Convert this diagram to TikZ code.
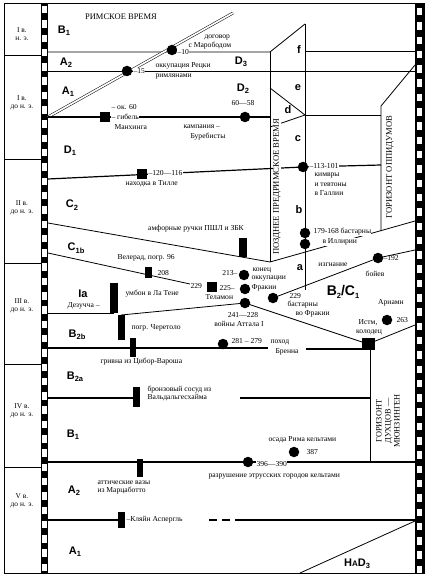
\documentclass[tikz,border=0pt]{standalone}
\usepackage{fontspec}
\setmainfont{Liberation Serif}
\newfontfamily\phsans{Liberation Sans}
\newcommand\phsub[1]{\raisebox{-2.4pt}{\fontsize{7.5}{8}\selectfont #1}}
\begin{document}
\begin{tikzpicture}[x=1pt,y=-1pt,
  lab/.style={font=\fontsize{7.6}{8.2}\selectfont, inner sep=0.3pt},
  wl/.style={lab, fill=white},
  ph/.style={font=\phsans\bfseries\fontsize{11}{12}\selectfont, inner sep=0},
  bdry/.style={line width=0.8pt},
  evl/.style={line width=1.2pt},
  dotm/.style={circle, fill=black, minimum size=10.5pt, inner sep=0},
  sqm/.style={rectangle, fill=black, minimum size=10pt, inner sep=0},
  barm/.style={rectangle, fill=black, inner sep=0, minimum width=7pt},
  cent/.style={font=\fontsize{7.4}{8.4}\selectfont, align=center, inner sep=0},
  vtext/.style={font=\fontsize{8.6}{9.5}\selectfont, rotate=90, inner sep=0.6pt, fill=white},
]
\useasboundingbox (0,0) rectangle (431,577);

% ---------- frame and film strips
\draw[line width=0.8pt] (4,3) rectangle (424,573);
\fill (41,3) rectangle (48,573);
\fill (415,3) rectangle (424,573);
\foreach \k in {0,...,39} {
  \fill[white] (42.4,{6+\k*14.3}) rectangle (46.8,{13.5+\k*14.3});
  \fill[white] (416.6,{8+\k*14.3}) rectangle (422.4,{15.5+\k*14.3});
}
\foreach \yy in {55,159,263,364,467} \draw[line width=0.7pt] (4,\yy) -- (41,\yy);

% ---------- century labels
\node[cent] (c1) at (22,34) {I в.\\н. э.};
\node[cent] (c2) at (22,103) {I в.\\до н. э.};
\node[cent] (c3) at (22,208) {II в.\\до н. э.};
\node[cent] (c4) at (22,306) {III в.\\до н. э.};
\node[cent] (c5) at (22,411) {IV в.\\до н. э.};
\node[cent] (c6) at (22,501) {V в.\\до н. э.};

% ---------- boundaries
\draw[bdry] (48,52) -- (270,52) -- (305,24);
\draw[bdry] (305,51) -- (415,51);
\draw[bdry] (48,71) -- (415,71);
\draw[bdry] (270,52) -- (270,262);
\draw[bdry] (305,24) -- (305,290);
\draw[bdry] (270,88) -- (305,115) -- (270,127);
\draw[bdry] (305,115) -- (381,115);
\draw[bdry] (381,231) -- (381,106) -- (415,65);
\draw[double, double distance=1.7pt, line width=0.5pt] (48,117) -- (233,13);

% Manching line
\draw[evl] (48,117) -- (270,117);
% D1 / C2
\draw[evl] (48,179) -- (303,167) -- (381,165);
% C2 / C1b and b / a
\draw[bdry] (48,223) -- (270,262) -- (415,221);
% a / B2C1
\draw[bdry] (273,298) -- (378,258) -- (415,250);
% C1b / Ia
\draw[bdry] (48,253) -- (190,284);
% Ia / B2b
\draw[bdry] (48,313) -- (114,313);
\draw[bdry] (121,315) -- (245,303) -- (368,344);
\draw[bdry] (368,344) -- (415,325);
% B2b / B2a
\draw[evl] (48,348) -- (268,348);
\draw[evl] (306,349) -- (368,349);
\draw[bdry] (370,349) -- (370,462);
% B2a / B1
\draw[evl] (48,398) -- (136,398);
\draw[evl] (240,398) -- (370,398);
% B1 / A2
\draw[evl] (48,462) -- (415,462);
% A2 / A1
\draw[evl] (48,520) -- (122,520);
\draw[evl, dash pattern=on 8pt off 5pt] (209,520) -- (237,520);
\draw[evl] (237,520) -- (415,520);
% HaD3
\draw[bdry] (300,573) -- (415,521);

% ---------- markers
\node[dotm] (p15) at (127,71) {};
\node[dotm] (p10) at (172,50) {};
\node[sqm] (sMan) at (105,117) {};
\node[dotm] (pBur) at (245,117) {};
\node[sqm] (sTil) at (142,174) {};
\node[dotm] (pKim) at (303,167) {};
\node[dotm] (pBa1) at (305,233) {};
\node[dotm] (pBa2) at (305,244) {};
\node[dotm] (pBoi) at (378,258) {};
\node[barm, minimum height=19pt, minimum width=8pt] (bAmf) at (243,247.5) {};
\node[barm, minimum height=11pt] (bVel) at (148,272) {};
\node[dotm] (p213) at (244,275) {};
\node[sqm] (sTel) at (212,287) {};
\node[dotm] (p225) at (245,289) {};
\node[dotm] (p241) at (245,303) {};
\node[dotm] (p229) at (273,298) {};
\node[barm, minimum height=30pt, minimum width=8pt] (bDez) at (114,298) {};
\node[barm, minimum height=25pt] (bChe) at (121.5,327.5) {};
\node[barm, minimum height=19pt, minimum width=6pt] (bCib) at (133,347.5) {};
\node[dotm] (p281) at (223,344) {};
\node[sqm, minimum width=13pt, minimum height=12pt] (sIst) at (368,344) {};
\node[dotm] (p263) at (387,320) {};
\node[barm, minimum height=20pt] (bWal) at (136,397) {};
\node[barm, minimum height=18pt, minimum width=6pt] (bMar) at (140,468) {};
\node[dotm] (p396) at (248,462) {};
\node[dotm] (p387) at (294,452) {};
\node[barm, minimum height=16pt] (bKle) at (121.5,520) {};

% ---------- phase labels
\node[ph] (lB1) at (64,31) {B\phsub{1}};
\node[ph] (lA2) at (66,63) {A\phsub{2}};
\node[ph] (lA1) at (68,92) {A\phsub{1}};
\node[ph] (lD1) at (70,151) {D\phsub{1}};
\node[ph] (lC2) at (72,205) {C\phsub{2}};
\node[ph] (lC1b) at (76,248) {C\phsub{1b}};
\node[ph] (lIa) at (83,294) {Ia};
\node[ph] (lB2b) at (77,335) {B\phsub{2b}};
\node[ph] (lB2a) at (75,377) {B\phsub{2a}};
\node[ph] (lB1b) at (73,435) {B\phsub{1}};
\node[ph] (lA2b) at (74,491) {A\phsub{2}};
\node[ph] (lA1b) at (75,552) {A\phsub{1}};
\node[ph] (lD3) at (241,62) {D\phsub{3}};
\node[ph] (lD2) at (243,89) {D\phsub{2}};
\node[ph] (lf) at (299,50) {f};
\node[ph] (le) at (298,88) {e};
\node[ph] (ld) at (288,110) {d};
\node[ph] (lc) at (298,139) {c};
\node[ph] (lb) at (299,210) {b};
\node[ph] (la) at (300,268) {a};
\node[ph, font=\phsans\bfseries\fontsize{14}{15}\selectfont] (lBC) at (343,292) {B\phsub{2}/C\phsub{1}};
\node[ph] (lHa) at (357,564) {H{\fontsize{8}{9}\selectfont A}D\phsub{3}};

% ---------- vertical titles
\node[vtext] (tPoz) at (277,187) {ПОЗДНЕЕ ПРЕДРИМСКОЕ ВРЕМЯ};
\node[vtext] (tOpp) at (390,167) {ГОРИЗОНТ ОППИДУМОВ};
\node[vtext, align=center, font=\fontsize{8.3}{9}\selectfont] (tDux) at (388,421) {ГОРИЗОНТ\\ДУХЦОВ —\\МЮНЗИНГЕН};
\node[lab, font=\fontsize{8.5}{9}\selectfont] (tRim) at (121,17) {РИМСКОЕ ВРЕМЯ};

% ---------- event texts
\node[wl, anchor=west] (t10) at (177,52) {–10};
\node[lab, anchor=west] (tDog) at (204,38) {договор};
\node[lab, anchor=west] (tMar) at (188,46) {с Марободом};
\node[wl, anchor=west] (t15) at (133,71) {–15};
\node[lab, anchor=south west] (tOkk) at (155,70) {оккупация Рецки};
\node[lab, anchor=north west] (tRim2) at (155,73) {римлянами};
\node[lab, anchor=west] (tOk) at (111,107) {– ок. 60};
\node[wl, anchor=west] (tGib) at (111,117) {– гибель};
\node[lab, anchor=west] (tMan) at (114,127) {Манхинга};
\node[lab] (t6058) at (243,103) {60—58};
\node[lab, anchor=west] (tKam) at (183,127) {кампания –};
\node[lab, anchor=west] (tBur) at (190,137) {Буребисты};
\node[wl, anchor=west] (t120) at (148,173) {–120—116};
\node[lab, anchor=west] (tNax) at (125,184) {находка в Тилле};
\node[wl, anchor=west] (t113) at (309,166) {–113-101};
\node[lab, anchor=west] (tKim) at (314,176) {кимвры};
\node[lab, anchor=west] (tTev) at (314,184.5) {и тевтоны};
\node[lab, anchor=west] (tGal) at (314,193) {в Галлии};
\node[wl, anchor=west] (t179) at (313,232) {179-168 бастарны};
\node[wl, anchor=west] (tIll) at (322,242) {в Иллирии};
\node[lab] (tIzg) at (333,265) {изгнание};
\node[lab] (tBoi) at (375,274) {бойев};
\node[lab, anchor=west] (t192) at (383,258) {–192};
\node[lab] (tAmf) at (196,229) {амфорные ручки ПШЛ и ЗБК};
\node[lab, anchor=west] (tVel) at (117,258) {Велерад, погр. 96};
\node[lab, anchor=west] (t208) at (157,273) {208};
\node[lab, anchor=west] (t229a) at (190,286) {229};
\node[lab, anchor=east] (t213) at (238,273) {213–};
\node[lab, anchor=west] (tKon) at (252,270) {конец};
\node[lab, anchor=west] (tOkk2) at (251,279) {оккупации};
\node[wl, anchor=west] (tFra) at (251,288) {Фракии};
\node[lab, anchor=west] (t225) at (219,288) {225–};
\node[lab, anchor=west] (tTel) at (205,297) {Теламон};
\node[lab, anchor=west] (tUmb) at (125,294) {умбон в Ла Тене};
\node[lab, anchor=west] (tDez) at (67,306) {Дезучча –};
\node[lab] (t241) at (243,315) {241—228};
\node[lab] (tAtt) at (239,323.5) {войны Аттала I};
\node[lab, anchor=west] (t229b) at (289,296) {229};
\node[lab, anchor=west] (tBas) at (287,305) {бастарны};
\node[lab, anchor=west] (tVoF) at (295,314) {во Фракии};
\node[lab] (tAri) at (391,303) {Ариамн};
\node[lab, anchor=west] (t263) at (396,320) {263};
\node[lab] (tIst) at (368,323) {Истм,};
\node[lab] (tKol) at (369,332) {колодец};
\node[lab, anchor=west] (tChe) at (131,328) {погр. Черетоло};
\node[lab, anchor=west] (tCib) at (100,362) {гривна из Цибор-Вароша};
\node[lab, anchor=west] (t281) at (231,341) {281 – 279};
\node[lab, anchor=west] (tPox) at (270,342) {поход};
\node[lab, anchor=west] (tBre) at (275,352) {Бренна};
\node[lab, anchor=west] (tBro) at (147,390) {бронзовый сосуд из};
\node[lab, anchor=west] (tWal) at (147,398) {Вальдальгесхайма};
\node[lab, anchor=west] (tOsa) at (268,440) {осада Рима кельтами};
\node[lab, anchor=west] (t387) at (306,452) {387};
\node[wl, anchor=west] (t396) at (256,464) {396—390};
\node[lab, anchor=west] (tRaz) at (208,477) {разрушение этрусских городов кельтами};
\node[lab, anchor=west] (tAtt2) at (97,483) {аттические вазы};
\node[lab, anchor=west] (tMarz) at (97,491) {из Марцаботто};
\node[lab, anchor=west] (tKle) at (126,520) {–Кляйн Аспергль};
\end{tikzpicture}
\end{document}
